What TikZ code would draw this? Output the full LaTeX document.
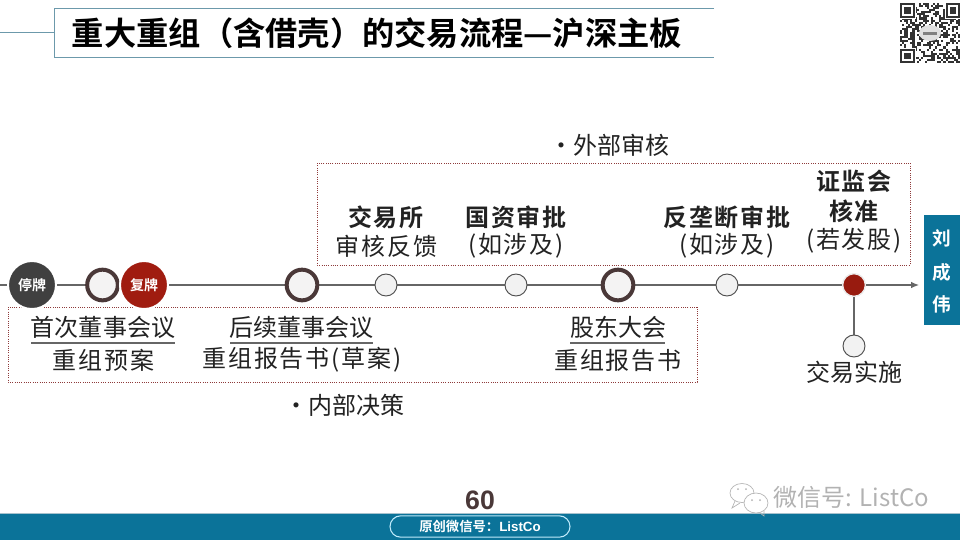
\documentclass[tikz,border=0pt]{standalone}
\usepackage{fontspec}
\setmainfont{Noto Sans CJK SC}[BoldFont={Noto Sans CJK SC Bold}]
\newfontfamily\latinbold{Liberation Sans}[BoldFont={Liberation Sans Bold}]
\usetikzlibrary{backgrounds,arrows.meta,shapes.misc,shapes.callouts}
\definecolor{teal1}{HTML}{0B7399}
\definecolor{rule1}{HTML}{6C99AB}
\definecolor{dred}{HTML}{8E3A3A}
\definecolor{crim}{HTML}{A01C10}
\definecolor{ringc}{HTML}{4A3838}
\definecolor{inkc}{HTML}{222222}
\tikzset{
 lab/.style={font=\fontsize{18}{20}\selectfont,text=inkc,inner sep=0pt},
 labw/.style={font=\fontsize{18}{20}\selectfont\addfontfeature{LetterSpace=8},text=inkc,inner sep=0pt},
 labb/.style={font=\fontsize{18}{20}\selectfont\bfseries\addfontfeature{LetterSpace=8},text=inkc,inner sep=0pt},
 bigdot/.style={circle,minimum size=36pt,inner sep=0pt,text=white,font=\fontsize{10.5}{12}\selectfont\bfseries,draw=white,line width=1.5pt},
 ring/.style={circle,minimum size=23pt,inner sep=0pt,fill=ringc!6,draw=ringc,line width=3pt},
 small/.style={circle,minimum size=16.5pt,inner sep=0pt,fill=black!5,draw=black!70,line width=.7pt},
 dotbox/.style={draw=dred,line width=.7pt,densely dotted},
 under/.style={draw=black!60,line width=1.2pt},
 tline/.style={draw=black!60,line width=.9pt},
 tabtext/.style={inner sep=0pt,text=white,font=\fontsize{14}{16}\selectfont\bfseries},
}
\begin{document}
\begin{tikzpicture}[x=0.75pt,y=-0.75pt]
\useasboundingbox (0,0) rectangle (960,540);
% title
\coordinate (tl0) at (0,32);
\coordinate (tbTL) at (54,8);
\coordinate (tbTR) at (714,8);
\coordinate (tbBL) at (54,57);
\coordinate (tbBR) at (714,57);
\coordinate (tbM) at (54,32);
\draw[rule1,line width=.6pt] (tl0) -- (tbM);
\draw[rule1,line width=.6pt] (tbTR) -- (tbTL) -- (tbBL) -- (tbBR);
\node[inner sep=0pt,font=\fontsize{24.2}{26}\selectfont\bfseries,text=black] (title) at (377,33) {重大重组（含借壳）的交易流程—沪深主板};
% QR
\begin{scope}
\pgfmathsetseed{4711}
\foreach \i in {0,...,28}{\foreach \j in {0,...,28}{
  \pgfmathparse{rnd<0.52?1:0}
  \ifnum\pgfmathresult=1 \fill[black!80] ({900+\i*2.07},{3+\j*2.07}) rectangle ++(2.07,2.07);\fi
}}
\foreach \x/\y in {900/3,945.5/3,900/48.5}{
  \fill[white] ({\x-1},{\y-1}) rectangle ++(16.5,16.5);
  \fill[black!80] (\x,\y) rectangle ++(14.5,14.5);
  \fill[white] ({\x+2},{\y+2}) rectangle ++(10.5,10.5);
  \fill[black!80] ({\x+4},{\y+4}) rectangle ++(6.5,6.5);
}
\fill[black!12] (930,33) ellipse (11 and 8);
\fill[black!50] (923,32) rectangle (937,35);
\end{scope}
% dotted boxes
\draw[dotbox] (317,163) rectangle (910,265);
\draw[dotbox] (8,307) rectangle (697,382);
% timeline nodes
\coordinate (start) at (0,285);
\coordinate (end) at (919,285);
\node[bigdot,fill=black!75] (halt) at (32,285) {停牌};
\node[ring] (m1) at (102.5,285) {};
\node[bigdot,fill=crim] (resume) at (144,285) {复牌};
\node[ring] (m2) at (302,285) {};
\node[small] (s1) at (386,285) {};
\node[small] (s2) at (516,285) {};
\node[ring] (m3) at (618,285) {};
\node[small] (s3) at (727,285) {};
\node[circle,minimum size=17pt,inner sep=0pt,fill=crim!95!black,draw=black!8,line width=1pt] (csrc) at (854,285) {};
\node[small] (impl) at (854,346) {};
\begin{scope}[on background layer]
\draw[tline,-{Latex[length=6pt,width=5pt]}] (start) -- (end);
\draw[tline] (csrc) -- (impl);
\end{scope}
% lower labels
\node[lab] (a1) at (103,327) {首次董事会议};
\node[labw] (a2) at (103.5,360) {重组预案};
\node[lab] (b1) at (301,327) {后续董事会议};
\node[labw] (b2) at (302,360) {重组报告书(草案)};
\node[lab] (c1) at (618,327) {股东大会};
\node[labw] (c2) at (618,360) {重组报告书};
\coordinate (u1a) at (31,343); \coordinate (u1b) at (175,343);
\coordinate (u2a) at (230,343); \coordinate (u2b) at (373,343);
\coordinate (u3a) at (570,343); \coordinate (u3b) at (665,343);
\draw[under] (u1a) -- (u1b);
\draw[under] (u2a) -- (u2b);
\draw[under] (u3a) -- (u3b);
% upper labels
\node[labb] (d1) at (386,217) {交易所};
\node[labw] (d2) at (386.5,246) {审核反馈};
\node[labb] (e1) at (516,217) {国资审批};
\node[labw] (e2) at (516,246) {(如涉及)};
\node[labb] (f1) at (727,217) {反垄断审批};
\node[labw] (f2) at (727,246) {(如涉及)};
\node[labb] (g1) at (854,181) {证监会};
\node[labb] (g2) at (854,211) {核准};
\node[labw] (g3) at (854,241) {(若发股)};
\node[lab] (impltext) at (854,372) {交易实施};
\node[lab,anchor=east] (ext) at (670,145) {•外部审核};
\node[lab,anchor=east] (int) at (405,405) {•内部决策};
% side tab
\fill[teal1] (924,215) rectangle (960,325);
\node[tabtext] (n1) at (942,238) {刘};
\node[tabtext] (n2) at (942,272) {成};
\node[tabtext] (n3) at (942,304) {伟};
% footer
\fill[teal1] (0,513) rectangle (960,540);
\draw[rule1!60,line width=.6pt] (0,513) -- (960,513);
\node[inner sep=0pt,font=\latinbold\fontsize{20}{22}\selectfont\bfseries,text=ringc] (pg) at (480,500) {60};
\node[draw=cyan!25,line width=.8pt,rounded rectangle,minimum width=135pt,minimum height=16pt,inner sep=0pt,text=white,font=\fontsize{10}{12}\selectfont\bfseries] (pill) at (480,526.5) {原创微信号：{\latinbold\bfseries ListCo}};
% watermark
\node[inner sep=0pt,text=black!30,font=\fontsize{18}{20}\selectfont] (wm) at (851.5,497) {微信号: ListCo};
\draw[black!30,line width=.5pt] (742,493) ellipse (12 and 9.5);
\draw[black!30,line width=.5pt] (735,501) -- (732,508) -- (740,503);
\draw[black!30,fill=white,line width=.5pt] (756,503) ellipse (12 and 10);
\draw[black!30,line width=.5pt] (760,513) -- (764,516) -- (764,511);
\fill[black!30] (738,489) circle (1) (746,489) circle (1) (752,500) circle (1) (760,500) circle (1);
\end{tikzpicture}
\end{document}
